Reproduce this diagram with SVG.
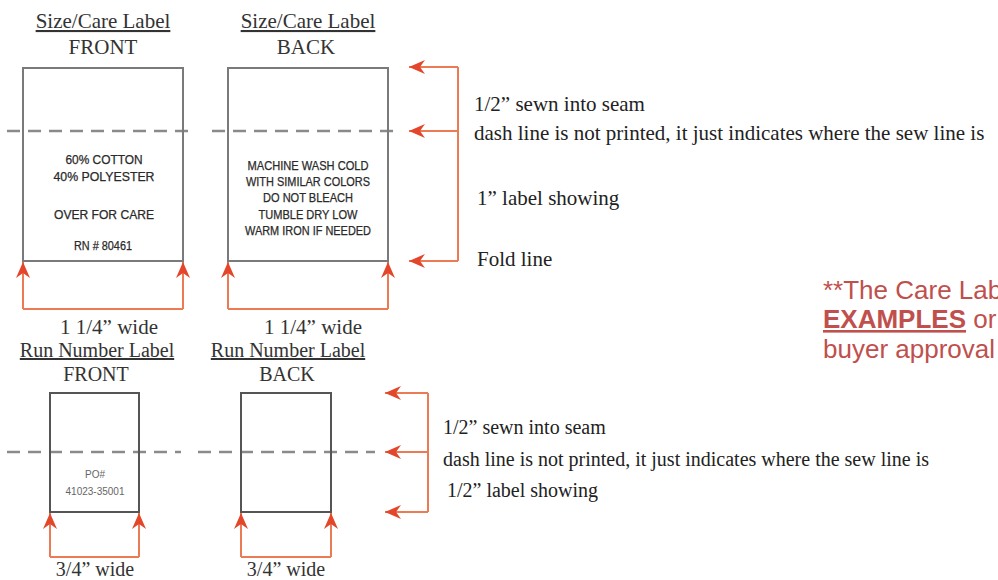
<svg xmlns="http://www.w3.org/2000/svg" width="998" height="580" viewBox="0 0 998 580">
  <style>
    .hdr { font-family: "Liberation Serif", "Times New Roman", serif; fill: #333; text-anchor: middle; }
    .note { font-family: "Liberation Serif", "Times New Roman", serif; fill: #222; }
    .care { font-family: "Liberation Sans", Arial, sans-serif; font-size: 12px; fill: #2a2a2a; stroke: #2a2a2a; stroke-width: 0.25; text-anchor: middle; }
    .po { font-family: "Liberation Sans", Arial, sans-serif; font-size: 10px; fill: #666; text-anchor: middle; }
    .box { fill: none; stroke: #7a7a7a; stroke-width: 2; }
    .box2 { fill: none; stroke: #555; stroke-width: 2; }
    .dash { fill: none; stroke: #8a8a8a; stroke-width: 2.5; stroke-dasharray: 13 8; }
    .arr { fill: none; stroke: #ec7a55; stroke-width: 2; }
    .red { font-family: "Liberation Sans", Arial, sans-serif; font-size: 26px; fill: #c0504d; }
  </style>
  <defs>
    <marker id="head" markerUnits="userSpaceOnUse" viewBox="0 0 16 14" markerWidth="16" markerHeight="14" refX="16" refY="7" orient="auto">
      <path d="M0,0 L16,7 L0,14 L5,7 Z" fill="#e3462a"/>
    </marker>
  </defs>
  <rect width="998" height="580" fill="#fff"/>

  <!-- sew lines (dashed) -->
  <g id="sew-lines">
    <path class="dash" d="M7,131 H192 M212,131 H400"/>
    <path class="dash" d="M7,452 H181 M198,452 H375"/>
  </g>

  <!-- size/care label, front -->
  <g id="care-front">
    <text class="hdr" x="103" y="28" font-size="21" text-decoration="underline">Size/Care Label</text>
    <text class="hdr" x="103" y="54" font-size="21">FRONT</text>
    <rect class="box" x="23" y="68" width="160" height="193"/>
    <text class="care" x="104" y="164" textLength="77" lengthAdjust="spacingAndGlyphs">60% COTTON</text>
    <text class="care" x="104" y="181" textLength="101" lengthAdjust="spacingAndGlyphs">40% POLYESTER</text>
    <text class="care" x="104" y="219" textLength="100" lengthAdjust="spacingAndGlyphs">OVER FOR CARE</text>
    <text class="care" x="103" y="250" textLength="58" lengthAdjust="spacingAndGlyphs">RN # 80461</text>
    <text class="hdr" x="109" y="334" font-size="21" fill="#222">1 1/4” wide</text>
  </g>

  <!-- size/care label, back -->
  <g id="care-back">
    <text class="hdr" x="308" y="28" font-size="21" text-decoration="underline">Size/Care Label</text>
    <text class="hdr" x="306" y="54" font-size="21">BACK</text>
    <rect class="box" x="228" y="68" width="160" height="193"/>
    <text class="care" x="308" y="170" textLength="121" lengthAdjust="spacingAndGlyphs">MACHINE WASH COLD</text>
    <text class="care" x="308" y="186" textLength="124" lengthAdjust="spacingAndGlyphs">WITH SIMILAR COLORS</text>
    <text class="care" x="308" y="202" textLength="90" lengthAdjust="spacingAndGlyphs">DO NOT BLEACH</text>
    <text class="care" x="308" y="219" textLength="99" lengthAdjust="spacingAndGlyphs">TUMBLE DRY LOW</text>
    <text class="care" x="308" y="235" textLength="126" lengthAdjust="spacingAndGlyphs">WARM IRON IF NEEDED</text>
    <text class="hdr" x="313" y="334" font-size="21" fill="#222">1 1/4” wide</text>
  </g>

  <!-- run number label, front -->
  <g id="run-front">
    <text class="hdr" x="97" y="357" font-size="20" text-decoration="underline">Run Number Label</text>
    <text class="hdr" x="96" y="381" font-size="20">FRONT</text>
    <rect class="box2" x="50" y="393" width="89" height="119"/>
    <text class="po" x="95" y="478">PO#</text>
    <text class="po" x="95" y="495">41023-35001</text>
    <text class="hdr" x="95" y="576" font-size="20">3/4” wide</text>
  </g>

  <!-- run number label, back -->
  <g id="run-back">
    <text class="hdr" x="288" y="357" font-size="20" text-decoration="underline">Run Number Label</text>
    <text class="hdr" x="287" y="381" font-size="20">BACK</text>
    <rect class="box2" x="241" y="393" width="90" height="119"/>
    <text class="hdr" x="286" y="576" font-size="20">3/4” wide</text>
  </g>

  <!-- notes beside the care label -->
  <g id="care-notes" class="note" font-size="21">
    <text x="474" y="111">1/2” sewn into seam</text>
    <text x="474" y="140">dash line is not printed, it just indicates where the sew line is</text>
    <text x="477" y="205">1” label showing</text>
    <text x="477" y="266">Fold line</text>
  </g>

  <!-- notes beside the run number label -->
  <g id="run-notes" class="note" font-size="20">
    <text x="443" y="434">1/2” sewn into seam</text>
    <text x="443" y="466">dash line is not printed, it just indicates where the sew line is</text>
    <text x="447" y="497">1/2” label showing</text>
  </g>

  <!-- red remark -->
  <g id="remark" class="red">
    <text x="823" y="299">**The Care Lab</text>
    <text x="823" y="328"><tspan font-weight="bold" text-decoration="underline">EXAMPLES</tspan> or</text>
    <text x="823" y="358">buyer approval</text>
  </g>

  <!-- dimension arrows -->
  <g id="connectors">
    <!-- width brackets -->
    <path class="arr" d="M23,309 H183"/>
    <path class="arr" d="M23,309 V262" marker-end="url(#head)"/>
    <path class="arr" d="M183,309 V262" marker-end="url(#head)"/>
    <path class="arr" d="M228,309 H388"/>
    <path class="arr" d="M228,309 V262" marker-end="url(#head)"/>
    <path class="arr" d="M388,309 V262" marker-end="url(#head)"/>
    <path class="arr" d="M50,557 H139"/>
    <path class="arr" d="M50,557 V513" marker-end="url(#head)"/>
    <path class="arr" d="M139,557 V513" marker-end="url(#head)"/>
    <path class="arr" d="M241,557 H331"/>
    <path class="arr" d="M241,557 V513" marker-end="url(#head)"/>
    <path class="arr" d="M331,557 V513" marker-end="url(#head)"/>
    <!-- height brackets -->
    <path class="arr" d="M458,67 V261"/>
    <path class="arr" d="M458,67 H409" marker-end="url(#head)"/>
    <path class="arr" d="M458,131 H409" marker-end="url(#head)"/>
    <path class="arr" d="M458,261 H409" marker-end="url(#head)"/>
    <path class="arr" d="M428,393 V512"/>
    <path class="arr" d="M428,393 H385" marker-end="url(#head)"/>
    <path class="arr" d="M428,452 H385" marker-end="url(#head)"/>
    <path class="arr" d="M428,512 H385" marker-end="url(#head)"/>
  </g>
</svg>
